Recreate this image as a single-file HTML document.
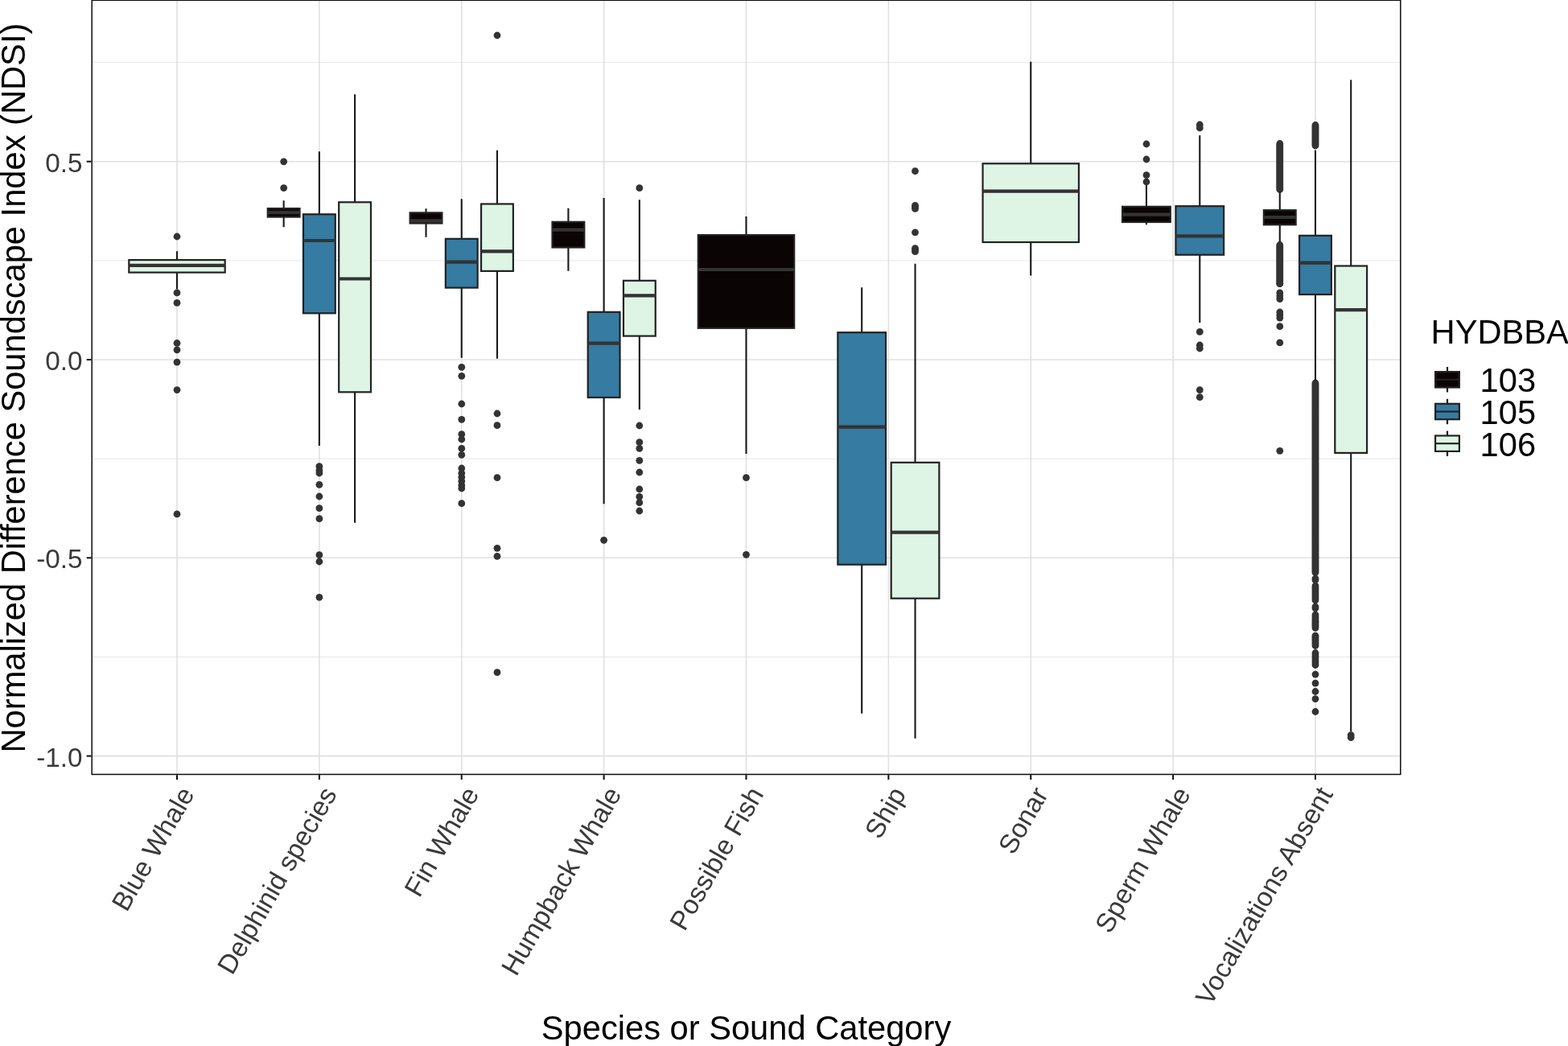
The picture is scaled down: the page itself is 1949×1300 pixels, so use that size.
<!DOCTYPE html>
<html lang="en"><head><meta charset="utf-8">
<title>Normalized Difference Soundscape Index (NDSI) by Species or Sound Category</title>
<style>
html,body{margin:0;padding:0;background:#fff;}
body{width:1949px;height:1300px;overflow:hidden;}
svg{display:block;font-family:"Liberation Sans",sans-serif;}
.tick{font-size:33.33px;fill:#3a3a3a;}
.title{font-size:41.67px;fill:#000;}
.grid{stroke:#E6E6E6;fill:none;}
.gridM{stroke:#E0E0E0;fill:none;}
.ln{stroke:#222222;stroke-width:2.2;fill:none;}
.wh{stroke:#1a1a1a;stroke-width:2.1;fill:none;}
.tk{stroke:#0d0d0d;stroke-width:2.0;fill:none;}
.pt{fill:#333333;}
</style></head><body>
<svg width="1949" height="1300" viewBox="0 0 1949 1300">
<rect x="0" y="0" width="1949" height="1300" fill="#ffffff"/>
<g class="grid" stroke-width="1.0">
<line x1="114.20" x2="1740.80" y1="77.60" y2="77.60"/>
<line x1="114.20" x2="1740.80" y1="323.89" y2="323.89"/>
<line x1="114.20" x2="1740.80" y1="570.17" y2="570.17"/>
<line x1="114.20" x2="1740.80" y1="816.46" y2="816.46"/>
</g>
<g class="gridM" stroke-width="1.6">
<line x1="114.20" x2="1740.80" y1="200.74" y2="200.74"/>
<line x1="114.20" x2="1740.80" y1="447.03" y2="447.03"/>
<line x1="114.20" x2="1740.80" y1="693.31" y2="693.31"/>
<line x1="114.20" x2="1740.80" y1="939.60" y2="939.60"/>
<line x1="220.00" x2="220.00" y1="0.30" y2="962.45"/>
<line x1="396.88" x2="396.88" y1="0.30" y2="962.45"/>
<line x1="573.75" x2="573.75" y1="0.30" y2="962.45"/>
<line x1="750.62" x2="750.62" y1="0.30" y2="962.45"/>
<line x1="927.50" x2="927.50" y1="0.30" y2="962.45"/>
<line x1="1104.38" x2="1104.38" y1="0.30" y2="962.45"/>
<line x1="1281.25" x2="1281.25" y1="0.30" y2="962.45"/>
<line x1="1458.12" x2="1458.12" y1="0.30" y2="962.45"/>
<line x1="1635.00" x2="1635.00" y1="0.30" y2="962.45"/>
</g>
<g>
<g class="pt"><circle cx="220.0" cy="294.0" r="4.4"/><circle cx="220.0" cy="363.9" r="4.4"/><circle cx="220.0" cy="376.3" r="4.4"/><circle cx="220.0" cy="426.5" r="4.4"/><circle cx="220.0" cy="434.8" r="4.4"/><circle cx="220.0" cy="450.1" r="4.4"/><circle cx="220.0" cy="484.6" r="4.4"/><circle cx="220.0" cy="638.9" r="4.4"/></g>
<path class="wh" d="M220.00 312.30V323.10M220.00 338.60V359.50"/>
<rect x="160.30" y="323.10" width="119.39" height="15.50" fill="#DEF5E5" stroke="#222222" stroke-width="2.2" stroke-linejoin="miter"/>
<line x1="160.30" x2="279.70" y1="329.90" y2="329.90" stroke="#333333" stroke-width="4.2"/>
</g>
<g>
<g class="pt"><circle cx="352.7" cy="200.8" r="4.4"/><circle cx="352.7" cy="233.6" r="4.4"/></g>
<path class="wh" d="M352.66 249.30V259.10M352.66 269.60V282.30"/>
<rect x="332.76" y="259.10" width="39.80" height="10.50" fill="#0B0405" stroke="#222222" stroke-width="2.2" stroke-linejoin="miter"/>
<line x1="332.76" x2="372.55" y1="264.20" y2="264.20" stroke="#333333" stroke-width="4.2"/>
</g>
<g>
<g class="pt"><circle cx="396.9" cy="579.7" r="4.4"/><circle cx="396.9" cy="584.7" r="4.4"/><circle cx="396.9" cy="588.0" r="4.4"/><circle cx="396.9" cy="602.3" r="4.4"/><circle cx="396.9" cy="617.0" r="4.4"/><circle cx="396.9" cy="631.7" r="4.4"/><circle cx="396.9" cy="644.7" r="4.4"/><circle cx="396.9" cy="689.7" r="4.4"/><circle cx="396.9" cy="698.0" r="4.4"/><circle cx="396.9" cy="742.3" r="4.4"/></g>
<path class="wh" d="M396.88 188.30V266.30M396.88 389.30V554.00"/>
<rect x="376.98" y="266.30" width="39.80" height="123.00" fill="#357BA2" stroke="#222222" stroke-width="2.2" stroke-linejoin="miter"/>
<line x1="376.98" x2="416.77" y1="299.00" y2="299.00" stroke="#333333" stroke-width="4.2"/>
</g>
<g>
<path class="wh" d="M441.09 117.30V251.30M441.09 487.30V649.70"/>
<rect x="421.20" y="251.30" width="39.80" height="236.00" fill="#DEF5E5" stroke="#222222" stroke-width="2.2" stroke-linejoin="miter"/>
<line x1="421.20" x2="460.99" y1="346.50" y2="346.50" stroke="#333333" stroke-width="4.2"/>
</g>
<g>
<path class="wh" d="M529.53 259.30V264.40M529.53 277.50V294.70"/>
<rect x="509.63" y="264.40" width="39.80" height="13.10" fill="#0B0405" stroke="#222222" stroke-width="2.2" stroke-linejoin="miter"/>
<line x1="509.63" x2="549.43" y1="274.30" y2="274.30" stroke="#333333" stroke-width="4.2"/>
</g>
<g>
<g class="pt"><circle cx="573.8" cy="456.3" r="4.4"/><circle cx="573.8" cy="467.3" r="4.4"/><circle cx="573.8" cy="502.0" r="4.4"/><circle cx="573.8" cy="521.3" r="4.4"/><circle cx="573.8" cy="539.7" r="4.4"/><circle cx="573.8" cy="546.0" r="4.4"/><circle cx="573.8" cy="557.3" r="4.4"/><circle cx="573.8" cy="565.3" r="4.4"/><circle cx="573.8" cy="582.0" r="4.4"/><circle cx="573.8" cy="588.0" r="4.4"/><circle cx="573.8" cy="593.0" r="4.4"/><circle cx="573.8" cy="598.0" r="4.4"/><circle cx="573.8" cy="603.0" r="4.4"/><circle cx="573.8" cy="607.0" r="4.4"/><circle cx="573.8" cy="625.7" r="4.4"/></g>
<path class="wh" d="M573.75 247.30V296.80M573.75 357.60V444.70"/>
<rect x="553.85" y="296.80" width="39.80" height="60.80" fill="#357BA2" stroke="#222222" stroke-width="2.2" stroke-linejoin="miter"/>
<line x1="553.85" x2="593.65" y1="325.70" y2="325.70" stroke="#333333" stroke-width="4.2"/>
</g>
<g>
<g class="pt"><circle cx="618.0" cy="44.0" r="4.4"/><circle cx="618.0" cy="514.0" r="4.4"/><circle cx="618.0" cy="528.7" r="4.4"/><circle cx="618.0" cy="593.7" r="4.4"/><circle cx="618.0" cy="681.3" r="4.4"/><circle cx="618.0" cy="691.3" r="4.4"/><circle cx="618.0" cy="835.7" r="4.4"/></g>
<path class="wh" d="M617.97 186.70V253.50M617.97 336.90V445.70"/>
<rect x="598.07" y="253.50" width="39.80" height="83.40" fill="#DEF5E5" stroke="#222222" stroke-width="2.2" stroke-linejoin="miter"/>
<line x1="598.07" x2="637.87" y1="312.30" y2="312.30" stroke="#333333" stroke-width="4.2"/>
</g>
<g>
<path class="wh" d="M706.41 258.70V275.80M706.41 307.50V336.80"/>
<rect x="686.51" y="275.80" width="39.80" height="31.70" fill="#0B0405" stroke="#222222" stroke-width="2.2" stroke-linejoin="miter"/>
<line x1="686.51" x2="726.30" y1="285.70" y2="285.70" stroke="#333333" stroke-width="4.2"/>
</g>
<g>
<g class="pt"><circle cx="750.6" cy="671.3" r="4.4"/></g>
<path class="wh" d="M750.62 246.00V387.80M750.62 494.00V626.30"/>
<rect x="730.73" y="387.80" width="39.80" height="106.20" fill="#357BA2" stroke="#222222" stroke-width="2.2" stroke-linejoin="miter"/>
<line x1="730.73" x2="770.52" y1="426.70" y2="426.70" stroke="#333333" stroke-width="4.2"/>
</g>
<g>
<g class="pt"><circle cx="794.8" cy="233.7" r="4.4"/><circle cx="794.8" cy="529.0" r="4.4"/><circle cx="794.8" cy="549.7" r="4.4"/><circle cx="794.8" cy="557.3" r="4.4"/><circle cx="794.8" cy="572.3" r="4.4"/><circle cx="794.8" cy="587.0" r="4.4"/><circle cx="794.8" cy="608.0" r="4.4"/><circle cx="794.8" cy="617.3" r="4.4"/><circle cx="794.8" cy="624.7" r="4.4"/><circle cx="794.8" cy="635.0" r="4.4"/></g>
<path class="wh" d="M794.84 248.30V348.80M794.84 417.60V509.00"/>
<rect x="774.95" y="348.80" width="39.80" height="68.80" fill="#DEF5E5" stroke="#222222" stroke-width="2.2" stroke-linejoin="miter"/>
<line x1="774.95" x2="814.74" y1="367.30" y2="367.30" stroke="#333333" stroke-width="4.2"/>
</g>
<g>
<g class="pt"><circle cx="927.5" cy="593.7" r="4.4"/><circle cx="927.5" cy="689.3" r="4.4"/></g>
<path class="wh" d="M927.50 269.00V292.10M927.50 407.80V564.00"/>
<rect x="867.80" y="292.10" width="119.39" height="115.70" fill="#0B0405" stroke="#222222" stroke-width="2.2" stroke-linejoin="miter"/>
<line x1="867.80" x2="987.20" y1="335.00" y2="335.00" stroke="#333333" stroke-width="4.2"/>
</g>
<g>
<path class="wh" d="M1071.21 357.30V413.20M1071.21 701.70V886.70"/>
<rect x="1041.36" y="413.20" width="59.70" height="288.50" fill="#357BA2" stroke="#222222" stroke-width="2.2" stroke-linejoin="miter"/>
<line x1="1041.36" x2="1101.06" y1="530.70" y2="530.70" stroke="#333333" stroke-width="4.2"/>
</g>
<g>
<g class="pt"><circle cx="1137.5" cy="212.7" r="4.4"/><circle cx="1137.5" cy="255.3" r="4.4"/><circle cx="1137.5" cy="257.4" r="4.4"/><circle cx="1137.5" cy="259.4" r="4.4"/><circle cx="1137.5" cy="288.8" r="4.4"/><circle cx="1137.5" cy="308.6" r="4.4"/><circle cx="1137.5" cy="310.6" r="4.4"/><circle cx="1137.5" cy="312.7" r="4.4"/></g>
<path class="wh" d="M1137.54 327.70V574.80M1137.54 743.70V917.70"/>
<rect x="1107.69" y="574.80" width="59.70" height="168.90" fill="#DEF5E5" stroke="#222222" stroke-width="2.2" stroke-linejoin="miter"/>
<line x1="1107.69" x2="1167.39" y1="661.70" y2="661.70" stroke="#333333" stroke-width="4.2"/>
</g>
<g>
<path class="wh" d="M1281.25 76.70V203.30M1281.25 301.00V342.40"/>
<rect x="1221.55" y="203.30" width="119.39" height="97.70" fill="#DEF5E5" stroke="#222222" stroke-width="2.2" stroke-linejoin="miter"/>
<line x1="1221.55" x2="1340.95" y1="237.70" y2="237.70" stroke="#333333" stroke-width="4.2"/>
</g>
<g>
<g class="pt"><circle cx="1425.0" cy="179.0" r="4.4"/><circle cx="1425.0" cy="198.0" r="4.4"/><circle cx="1425.0" cy="217.7" r="4.4"/><circle cx="1425.0" cy="226.0" r="4.4"/></g>
<path class="wh" d="M1424.96 230.00V256.80M1424.96 276.00V279.30"/>
<rect x="1395.11" y="256.80" width="59.70" height="19.20" fill="#0B0405" stroke="#222222" stroke-width="2.2" stroke-linejoin="miter"/>
<line x1="1395.11" x2="1454.81" y1="266.70" y2="266.70" stroke="#333333" stroke-width="4.2"/>
</g>
<g>
<g class="pt"><circle cx="1491.3" cy="155.0" r="4.4"/><circle cx="1491.3" cy="159.0" r="4.4"/><circle cx="1491.3" cy="412.3" r="4.4"/><circle cx="1491.3" cy="429.0" r="4.4"/><circle cx="1491.3" cy="433.0" r="4.4"/><circle cx="1491.3" cy="484.7" r="4.4"/><circle cx="1491.3" cy="493.7" r="4.4"/></g>
<path class="wh" d="M1491.29 168.30V256.20M1491.29 316.70V401.00"/>
<rect x="1461.44" y="256.20" width="59.70" height="60.50" fill="#357BA2" stroke="#222222" stroke-width="2.2" stroke-linejoin="miter"/>
<line x1="1461.44" x2="1521.14" y1="293.30" y2="293.30" stroke="#333333" stroke-width="4.2"/>
</g>
<g>
<g class="pt"><circle cx="1590.8" cy="178.5" r="4.4"/><circle cx="1590.8" cy="180.0" r="4.4"/><circle cx="1590.8" cy="181.5" r="4.4"/><circle cx="1590.8" cy="183.0" r="4.4"/><circle cx="1590.8" cy="184.5" r="4.4"/><circle cx="1590.8" cy="186.0" r="4.4"/><circle cx="1590.8" cy="187.5" r="4.4"/><circle cx="1590.8" cy="189.0" r="4.4"/><circle cx="1590.8" cy="190.5" r="4.4"/><circle cx="1590.8" cy="192.0" r="4.4"/><circle cx="1590.8" cy="193.5" r="4.4"/><circle cx="1590.8" cy="195.0" r="4.4"/><circle cx="1590.8" cy="196.5" r="4.4"/><circle cx="1590.8" cy="198.0" r="4.4"/><circle cx="1590.8" cy="199.5" r="4.4"/><circle cx="1590.8" cy="201.0" r="4.4"/><circle cx="1590.8" cy="202.5" r="4.4"/><circle cx="1590.8" cy="204.0" r="4.4"/><circle cx="1590.8" cy="205.5" r="4.4"/><circle cx="1590.8" cy="207.0" r="4.4"/><circle cx="1590.8" cy="208.5" r="4.4"/><circle cx="1590.8" cy="210.0" r="4.4"/><circle cx="1590.8" cy="211.5" r="4.4"/><circle cx="1590.8" cy="213.0" r="4.4"/><circle cx="1590.8" cy="214.5" r="4.4"/><circle cx="1590.8" cy="216.0" r="4.4"/><circle cx="1590.8" cy="217.5" r="4.4"/><circle cx="1590.8" cy="219.0" r="4.4"/><circle cx="1590.8" cy="220.5" r="4.4"/><circle cx="1590.8" cy="222.0" r="4.4"/><circle cx="1590.8" cy="223.5" r="4.4"/><circle cx="1590.8" cy="225.0" r="4.4"/><circle cx="1590.8" cy="226.5" r="4.4"/><circle cx="1590.8" cy="228.0" r="4.4"/><circle cx="1590.8" cy="229.5" r="4.4"/><circle cx="1590.8" cy="231.0" r="4.4"/><circle cx="1590.8" cy="232.5" r="4.4"/><circle cx="1590.8" cy="234.0" r="4.4"/><circle cx="1590.8" cy="235.5" r="4.4"/><circle cx="1590.8" cy="304.5" r="4.4"/><circle cx="1590.8" cy="306.0" r="4.4"/><circle cx="1590.8" cy="307.5" r="4.4"/><circle cx="1590.8" cy="309.0" r="4.4"/><circle cx="1590.8" cy="310.5" r="4.4"/><circle cx="1590.8" cy="312.0" r="4.4"/><circle cx="1590.8" cy="313.5" r="4.4"/><circle cx="1590.8" cy="315.0" r="4.4"/><circle cx="1590.8" cy="316.5" r="4.4"/><circle cx="1590.8" cy="318.0" r="4.4"/><circle cx="1590.8" cy="319.5" r="4.4"/><circle cx="1590.8" cy="321.0" r="4.4"/><circle cx="1590.8" cy="322.5" r="4.4"/><circle cx="1590.8" cy="324.0" r="4.4"/><circle cx="1590.8" cy="325.5" r="4.4"/><circle cx="1590.8" cy="327.0" r="4.4"/><circle cx="1590.8" cy="328.5" r="4.4"/><circle cx="1590.8" cy="330.0" r="4.4"/><circle cx="1590.8" cy="331.5" r="4.4"/><circle cx="1590.8" cy="333.0" r="4.4"/><circle cx="1590.8" cy="334.5" r="4.4"/><circle cx="1590.8" cy="336.0" r="4.4"/><circle cx="1590.8" cy="337.5" r="4.4"/><circle cx="1590.8" cy="339.0" r="4.4"/><circle cx="1590.8" cy="340.5" r="4.4"/><circle cx="1590.8" cy="342.0" r="4.4"/><circle cx="1590.8" cy="343.5" r="4.4"/><circle cx="1590.8" cy="345.0" r="4.4"/><circle cx="1590.8" cy="346.5" r="4.4"/><circle cx="1590.8" cy="348.0" r="4.4"/><circle cx="1590.8" cy="349.5" r="4.4"/><circle cx="1590.8" cy="351.0" r="4.4"/><circle cx="1590.8" cy="352.5" r="4.4"/><circle cx="1590.8" cy="352.6" r="4.4"/><circle cx="1590.8" cy="363.9" r="4.4"/><circle cx="1590.8" cy="367.8" r="4.4"/><circle cx="1590.8" cy="371.6" r="4.4"/><circle cx="1590.8" cy="388.0" r="4.4"/><circle cx="1590.8" cy="391.6" r="4.4"/><circle cx="1590.8" cy="395.1" r="4.4"/><circle cx="1590.8" cy="405.7" r="4.4"/><circle cx="1590.8" cy="425.9" r="4.4"/><circle cx="1590.8" cy="560.3" r="4.4"/></g>
<path class="wh" d="M1590.78 238.00V261.20M1590.78 279.30V301.00"/>
<rect x="1570.88" y="261.20" width="39.80" height="18.10" fill="#0B0405" stroke="#222222" stroke-width="2.2" stroke-linejoin="miter"/>
<line x1="1570.88" x2="1610.68" y1="270.00" y2="270.00" stroke="#333333" stroke-width="4.2"/>
</g>
<g>
<g class="pt"><circle cx="1635.0" cy="155.5" r="4.4"/><circle cx="1635.0" cy="157.0" r="4.4"/><circle cx="1635.0" cy="158.5" r="4.4"/><circle cx="1635.0" cy="160.0" r="4.4"/><circle cx="1635.0" cy="161.5" r="4.4"/><circle cx="1635.0" cy="163.0" r="4.4"/><circle cx="1635.0" cy="164.5" r="4.4"/><circle cx="1635.0" cy="166.0" r="4.4"/><circle cx="1635.0" cy="167.5" r="4.4"/><circle cx="1635.0" cy="169.0" r="4.4"/><circle cx="1635.0" cy="170.5" r="4.4"/><circle cx="1635.0" cy="172.0" r="4.4"/><circle cx="1635.0" cy="173.5" r="4.4"/><circle cx="1635.0" cy="175.0" r="4.4"/><circle cx="1635.0" cy="176.5" r="4.4"/><circle cx="1635.0" cy="178.0" r="4.4"/><circle cx="1635.0" cy="179.5" r="4.4"/><circle cx="1635.0" cy="181.0" r="4.4"/><circle cx="1635.0" cy="476.0" r="4.4"/><circle cx="1635.0" cy="477.5" r="4.4"/><circle cx="1635.0" cy="479.0" r="4.4"/><circle cx="1635.0" cy="480.5" r="4.4"/><circle cx="1635.0" cy="482.0" r="4.4"/><circle cx="1635.0" cy="483.5" r="4.4"/><circle cx="1635.0" cy="485.0" r="4.4"/><circle cx="1635.0" cy="486.5" r="4.4"/><circle cx="1635.0" cy="488.0" r="4.4"/><circle cx="1635.0" cy="489.5" r="4.4"/><circle cx="1635.0" cy="491.0" r="4.4"/><circle cx="1635.0" cy="492.5" r="4.4"/><circle cx="1635.0" cy="494.0" r="4.4"/><circle cx="1635.0" cy="495.5" r="4.4"/><circle cx="1635.0" cy="497.0" r="4.4"/><circle cx="1635.0" cy="498.5" r="4.4"/><circle cx="1635.0" cy="500.0" r="4.4"/><circle cx="1635.0" cy="501.5" r="4.4"/><circle cx="1635.0" cy="503.0" r="4.4"/><circle cx="1635.0" cy="504.5" r="4.4"/><circle cx="1635.0" cy="506.0" r="4.4"/><circle cx="1635.0" cy="507.5" r="4.4"/><circle cx="1635.0" cy="509.0" r="4.4"/><circle cx="1635.0" cy="510.5" r="4.4"/><circle cx="1635.0" cy="512.0" r="4.4"/><circle cx="1635.0" cy="513.5" r="4.4"/><circle cx="1635.0" cy="515.0" r="4.4"/><circle cx="1635.0" cy="516.5" r="4.4"/><circle cx="1635.0" cy="518.0" r="4.4"/><circle cx="1635.0" cy="519.5" r="4.4"/><circle cx="1635.0" cy="521.0" r="4.4"/><circle cx="1635.0" cy="522.5" r="4.4"/><circle cx="1635.0" cy="524.0" r="4.4"/><circle cx="1635.0" cy="525.5" r="4.4"/><circle cx="1635.0" cy="527.0" r="4.4"/><circle cx="1635.0" cy="528.5" r="4.4"/><circle cx="1635.0" cy="530.0" r="4.4"/><circle cx="1635.0" cy="531.5" r="4.4"/><circle cx="1635.0" cy="533.0" r="4.4"/><circle cx="1635.0" cy="534.5" r="4.4"/><circle cx="1635.0" cy="536.0" r="4.4"/><circle cx="1635.0" cy="537.5" r="4.4"/><circle cx="1635.0" cy="539.0" r="4.4"/><circle cx="1635.0" cy="540.5" r="4.4"/><circle cx="1635.0" cy="542.0" r="4.4"/><circle cx="1635.0" cy="543.5" r="4.4"/><circle cx="1635.0" cy="545.0" r="4.4"/><circle cx="1635.0" cy="546.5" r="4.4"/><circle cx="1635.0" cy="548.0" r="4.4"/><circle cx="1635.0" cy="549.5" r="4.4"/><circle cx="1635.0" cy="551.0" r="4.4"/><circle cx="1635.0" cy="552.5" r="4.4"/><circle cx="1635.0" cy="554.0" r="4.4"/><circle cx="1635.0" cy="555.5" r="4.4"/><circle cx="1635.0" cy="557.0" r="4.4"/><circle cx="1635.0" cy="558.5" r="4.4"/><circle cx="1635.0" cy="560.0" r="4.4"/><circle cx="1635.0" cy="561.5" r="4.4"/><circle cx="1635.0" cy="563.0" r="4.4"/><circle cx="1635.0" cy="564.5" r="4.4"/><circle cx="1635.0" cy="566.0" r="4.4"/><circle cx="1635.0" cy="567.5" r="4.4"/><circle cx="1635.0" cy="569.0" r="4.4"/><circle cx="1635.0" cy="570.5" r="4.4"/><circle cx="1635.0" cy="572.0" r="4.4"/><circle cx="1635.0" cy="573.5" r="4.4"/><circle cx="1635.0" cy="575.0" r="4.4"/><circle cx="1635.0" cy="576.5" r="4.4"/><circle cx="1635.0" cy="578.0" r="4.4"/><circle cx="1635.0" cy="579.5" r="4.4"/><circle cx="1635.0" cy="581.0" r="4.4"/><circle cx="1635.0" cy="582.5" r="4.4"/><circle cx="1635.0" cy="584.0" r="4.4"/><circle cx="1635.0" cy="585.5" r="4.4"/><circle cx="1635.0" cy="587.0" r="4.4"/><circle cx="1635.0" cy="588.5" r="4.4"/><circle cx="1635.0" cy="590.0" r="4.4"/><circle cx="1635.0" cy="591.5" r="4.4"/><circle cx="1635.0" cy="593.0" r="4.4"/><circle cx="1635.0" cy="594.5" r="4.4"/><circle cx="1635.0" cy="596.0" r="4.4"/><circle cx="1635.0" cy="597.5" r="4.4"/><circle cx="1635.0" cy="599.0" r="4.4"/><circle cx="1635.0" cy="600.5" r="4.4"/><circle cx="1635.0" cy="602.0" r="4.4"/><circle cx="1635.0" cy="603.5" r="4.4"/><circle cx="1635.0" cy="605.0" r="4.4"/><circle cx="1635.0" cy="606.5" r="4.4"/><circle cx="1635.0" cy="608.0" r="4.4"/><circle cx="1635.0" cy="609.5" r="4.4"/><circle cx="1635.0" cy="611.0" r="4.4"/><circle cx="1635.0" cy="612.5" r="4.4"/><circle cx="1635.0" cy="614.0" r="4.4"/><circle cx="1635.0" cy="615.5" r="4.4"/><circle cx="1635.0" cy="617.0" r="4.4"/><circle cx="1635.0" cy="618.5" r="4.4"/><circle cx="1635.0" cy="620.0" r="4.4"/><circle cx="1635.0" cy="621.5" r="4.4"/><circle cx="1635.0" cy="623.0" r="4.4"/><circle cx="1635.0" cy="624.5" r="4.4"/><circle cx="1635.0" cy="626.0" r="4.4"/><circle cx="1635.0" cy="627.5" r="4.4"/><circle cx="1635.0" cy="629.0" r="4.4"/><circle cx="1635.0" cy="630.5" r="4.4"/><circle cx="1635.0" cy="632.0" r="4.4"/><circle cx="1635.0" cy="633.5" r="4.4"/><circle cx="1635.0" cy="635.0" r="4.4"/><circle cx="1635.0" cy="636.5" r="4.4"/><circle cx="1635.0" cy="638.0" r="4.4"/><circle cx="1635.0" cy="639.5" r="4.4"/><circle cx="1635.0" cy="641.0" r="4.4"/><circle cx="1635.0" cy="642.5" r="4.4"/><circle cx="1635.0" cy="644.0" r="4.4"/><circle cx="1635.0" cy="645.5" r="4.4"/><circle cx="1635.0" cy="647.0" r="4.4"/><circle cx="1635.0" cy="648.5" r="4.4"/><circle cx="1635.0" cy="650.0" r="4.4"/><circle cx="1635.0" cy="651.5" r="4.4"/><circle cx="1635.0" cy="653.0" r="4.4"/><circle cx="1635.0" cy="654.5" r="4.4"/><circle cx="1635.0" cy="656.0" r="4.4"/><circle cx="1635.0" cy="657.5" r="4.4"/><circle cx="1635.0" cy="659.0" r="4.4"/><circle cx="1635.0" cy="660.5" r="4.4"/><circle cx="1635.0" cy="662.0" r="4.4"/><circle cx="1635.0" cy="663.5" r="4.4"/><circle cx="1635.0" cy="665.0" r="4.4"/><circle cx="1635.0" cy="666.5" r="4.4"/><circle cx="1635.0" cy="668.0" r="4.4"/><circle cx="1635.0" cy="669.5" r="4.4"/><circle cx="1635.0" cy="671.0" r="4.4"/><circle cx="1635.0" cy="672.5" r="4.4"/><circle cx="1635.0" cy="674.0" r="4.4"/><circle cx="1635.0" cy="675.5" r="4.4"/><circle cx="1635.0" cy="677.0" r="4.4"/><circle cx="1635.0" cy="678.5" r="4.4"/><circle cx="1635.0" cy="680.0" r="4.4"/><circle cx="1635.0" cy="681.5" r="4.4"/><circle cx="1635.0" cy="683.0" r="4.4"/><circle cx="1635.0" cy="684.5" r="4.4"/><circle cx="1635.0" cy="686.0" r="4.4"/><circle cx="1635.0" cy="687.5" r="4.4"/><circle cx="1635.0" cy="689.0" r="4.4"/><circle cx="1635.0" cy="690.5" r="4.4"/><circle cx="1635.0" cy="692.0" r="4.4"/><circle cx="1635.0" cy="693.5" r="4.4"/><circle cx="1635.0" cy="695.0" r="4.4"/><circle cx="1635.0" cy="696.5" r="4.4"/><circle cx="1635.0" cy="698.0" r="4.4"/><circle cx="1635.0" cy="699.5" r="4.4"/><circle cx="1635.0" cy="701.0" r="4.4"/><circle cx="1635.0" cy="702.5" r="4.4"/><circle cx="1635.0" cy="704.0" r="4.4"/><circle cx="1635.0" cy="705.5" r="4.4"/><circle cx="1635.0" cy="707.0" r="4.4"/><circle cx="1635.0" cy="708.5" r="4.4"/><circle cx="1635.0" cy="710.0" r="4.4"/><circle cx="1635.0" cy="711.5" r="4.4"/><circle cx="1635.0" cy="719.0" r="4.4"/><circle cx="1635.0" cy="721.0" r="4.4"/><circle cx="1635.0" cy="728.0" r="4.4"/><circle cx="1635.0" cy="730.0" r="4.4"/><circle cx="1635.0" cy="732.0" r="4.4"/><circle cx="1635.0" cy="734.0" r="4.4"/><circle cx="1635.0" cy="736.0" r="4.4"/><circle cx="1635.0" cy="738.0" r="4.4"/><circle cx="1635.0" cy="740.0" r="4.4"/><circle cx="1635.0" cy="742.0" r="4.4"/><circle cx="1635.0" cy="744.0" r="4.4"/><circle cx="1635.0" cy="746.0" r="4.4"/><circle cx="1635.0" cy="754.0" r="4.4"/><circle cx="1635.0" cy="756.0" r="4.4"/><circle cx="1635.0" cy="764.0" r="4.4"/><circle cx="1635.0" cy="766.0" r="4.4"/><circle cx="1635.0" cy="768.1" r="4.4"/><circle cx="1635.0" cy="770.1" r="4.4"/><circle cx="1635.0" cy="772.2" r="4.4"/><circle cx="1635.0" cy="774.2" r="4.4"/><circle cx="1635.0" cy="776.3" r="4.4"/><circle cx="1635.0" cy="778.3" r="4.4"/><circle cx="1635.0" cy="780.4" r="4.4"/><circle cx="1635.0" cy="790.2" r="4.4"/><circle cx="1635.0" cy="792.2" r="4.4"/><circle cx="1635.0" cy="794.3" r="4.4"/><circle cx="1635.0" cy="796.3" r="4.4"/><circle cx="1635.0" cy="798.4" r="4.4"/><circle cx="1635.0" cy="800.4" r="4.4"/><circle cx="1635.0" cy="802.5" r="4.4"/><circle cx="1635.0" cy="811.5" r="4.4"/><circle cx="1635.0" cy="814.0" r="4.4"/><circle cx="1635.0" cy="816.5" r="4.4"/><circle cx="1635.0" cy="819.0" r="4.4"/><circle cx="1635.0" cy="821.5" r="4.4"/><circle cx="1635.0" cy="824.0" r="4.4"/><circle cx="1635.0" cy="826.5" r="4.4"/><circle cx="1635.0" cy="838.1" r="4.4"/><circle cx="1635.0" cy="849.1" r="4.4"/><circle cx="1635.0" cy="859.5" r="4.4"/><circle cx="1635.0" cy="868.6" r="4.4"/><circle cx="1635.0" cy="884.5" r="4.4"/></g>
<path class="wh" d="M1635.00 186.70V292.80M1635.00 366.00V473.00"/>
<rect x="1615.10" y="292.80" width="39.80" height="73.20" fill="#357BA2" stroke="#222222" stroke-width="2.2" stroke-linejoin="miter"/>
<line x1="1615.10" x2="1654.90" y1="326.70" y2="326.70" stroke="#333333" stroke-width="4.2"/>
</g>
<g>
<g class="pt"><circle cx="1679.2" cy="913.6" r="4.4"/><circle cx="1679.2" cy="916.6" r="4.4"/></g>
<path class="wh" d="M1679.22 99.30V330.50M1679.22 562.90V909.30"/>
<rect x="1659.32" y="330.50" width="39.80" height="232.40" fill="#DEF5E5" stroke="#222222" stroke-width="2.2" stroke-linejoin="miter"/>
<line x1="1659.32" x2="1699.12" y1="385.10" y2="385.10" stroke="#333333" stroke-width="4.2"/>
</g>
<rect x="114.20" y="0.30" width="1626.60" height="962.15" fill="none" stroke="#0d0d0d" stroke-width="1.5"/>
<g class="tk">
<line x1="107.70" x2="113.50" y1="200.74" y2="200.74"/>
<line x1="107.70" x2="113.50" y1="447.03" y2="447.03"/>
<line x1="107.70" x2="113.50" y1="693.31" y2="693.31"/>
<line x1="107.70" x2="113.50" y1="939.60" y2="939.60"/>
<line x1="220.00" x2="220.00" y1="963.15" y2="968.95"/>
<line x1="396.88" x2="396.88" y1="963.15" y2="968.95"/>
<line x1="573.75" x2="573.75" y1="963.15" y2="968.95"/>
<line x1="750.62" x2="750.62" y1="963.15" y2="968.95"/>
<line x1="927.50" x2="927.50" y1="963.15" y2="968.95"/>
<line x1="1104.38" x2="1104.38" y1="963.15" y2="968.95"/>
<line x1="1281.25" x2="1281.25" y1="963.15" y2="968.95"/>
<line x1="1458.12" x2="1458.12" y1="963.15" y2="968.95"/>
<line x1="1635.00" x2="1635.00" y1="963.15" y2="968.95"/>
</g>
<g class="tick" text-anchor="end">
<text x="102.60" y="213.74">0.5</text>
<text x="102.60" y="460.03">0.0</text>
<text x="102.60" y="706.31">-0.5</text>
<text x="102.60" y="952.60">-1.0</text>
</g>
<g class="tick" text-anchor="end">
<text transform="translate(242.60 986.80) rotate(-60)">Blue Whale</text>
<text transform="translate(419.48 986.80) rotate(-60)">Delphinid species</text>
<text transform="translate(596.35 986.80) rotate(-60)">Fin Whale</text>
<text transform="translate(773.23 986.80) rotate(-60)">Humpback Whale</text>
<text transform="translate(950.10 986.80) rotate(-60)">Possible Fish</text>
<text transform="translate(1126.97 986.80) rotate(-60)">Ship</text>
<text transform="translate(1303.85 986.80) rotate(-60)">Sonar</text>
<text transform="translate(1480.72 986.80) rotate(-60)">Sperm Whale</text>
<text transform="translate(1657.60 986.80) rotate(-60)">Vocalizations Absent</text>
</g>
<text class="title" text-anchor="middle" x="927.50" y="1291.80">Species or Sound Category</text>
<text class="title" text-anchor="middle" transform="translate(31.10 482.07) rotate(-90)">Normalized Difference Soundscape Index (NDSI)</text>
<text class="title" x="1778.60" y="427.20">HYDBBA</text>
<g>
<path class="ln" d="M1799.00 456.00V462.10M1799.00 481.50V487.60"/>
<rect x="1784.10" y="462.10" width="29.80" height="19.40" fill="#0B0405" stroke="#222222" stroke-width="2.2"/>
<line class="ln" x1="1784.10" x2="1813.90" y1="471.80" y2="471.80"/>
<text class="title" x="1839.60" y="487.30">103</text>
</g>
<g>
<path class="ln" d="M1799.00 495.70V501.80M1799.00 521.20V527.30"/>
<rect x="1784.10" y="501.80" width="29.80" height="19.40" fill="#357BA2" stroke="#222222" stroke-width="2.2"/>
<line class="ln" x1="1784.10" x2="1813.90" y1="511.50" y2="511.50"/>
<text class="title" x="1839.60" y="527.00">105</text>
</g>
<g>
<path class="ln" d="M1799.00 535.40V541.50M1799.00 560.90V567.00"/>
<rect x="1784.10" y="541.50" width="29.80" height="19.40" fill="#DEF5E5" stroke="#222222" stroke-width="2.2"/>
<line class="ln" x1="1784.10" x2="1813.90" y1="551.20" y2="551.20"/>
<text class="title" x="1839.60" y="566.70">106</text>
</g>
</svg>
</body></html>
